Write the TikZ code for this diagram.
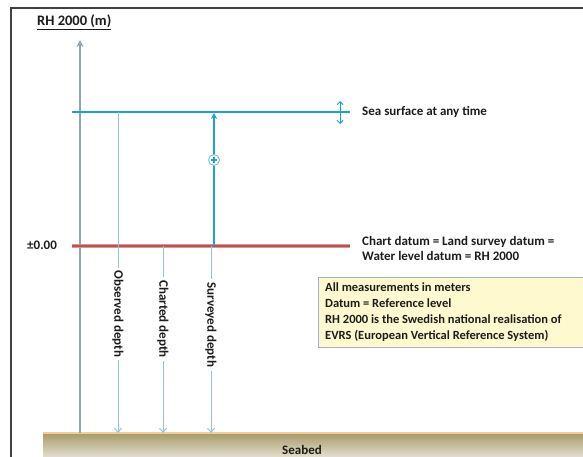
\documentclass[tikz,border=0pt]{standalone}
\usepackage{fontspec}
\setmainfont{Carlito}
\usetikzlibrary{arrows.meta}
\definecolor{seablue}{HTML}{1E9FD8}
\definecolor{thinblue}{HTML}{8EC3E3}
\definecolor{axisgray}{HTML}{94A3B0}
\definecolor{datumred}{HTML}{C0504D}
\definecolor{txt}{HTML}{1C1C1C}
\definecolor{notefill}{HTML}{FEF9CF}
\definecolor{noteedge}{HTML}{9FB3C2}
\definecolor{seabedtop}{HTML}{A79B66}
\definecolor{seabedbot}{HTML}{E2DFCE}
\definecolor{seabededge}{HTML}{F3CC9C}
\begin{document}
\begin{tikzpicture}[x=1pt,y=-1pt,
  lbl/.style={font=\bfseries\fontsize{13}{15}\selectfont, text=txt, inner sep=0pt},
  vlbl/.style={lbl, rotate=-90, inner sep=3pt},
  thinline/.style={draw=thinblue, line width=1pt},
  thinarrow/.style={thinline, -{Straight Barb[length=4pt,width=7pt]}}]
\useasboundingbox (0,0) rectangle (583,457);
% frame
\draw[line width=1.3pt, black!75] (11,460) -- (11,8) -- (590,8);
% seabed
\shade[top color=seabedtop, bottom color=seabedbot] (43,433) rectangle (583,457);
\draw[seabededge, line width=1.5pt] (43,433) -- (583,433);
\node[lbl, anchor=west] (seabed) at (282,450) {Seabed};
% axis
\coordinate (axbot) at (80,433);
\coordinate (axtop) at (80,40);
\draw[axisgray, line width=1.3pt, -{Stealth[length=7pt,width=7pt,inset=2pt]}] (axbot) -- (axtop);
\node[lbl, anchor=west, font=\bfseries\fontsize{14.5}{16}\selectfont] (rh) at (37,22) {\underline{RH 2000 (m)}};
% sea surface
\coordinate (ssL) at (72,112);
\coordinate (ssR) at (350,112);
\draw[seablue, line width=1.6pt] (ssL) -- (ssR);
\coordinate (varT) at (340,101);
\coordinate (varB) at (340,124);
\draw[seablue, line width=1pt, {Straight Barb[length=3pt,width=6pt]}-{Straight Barb[length=3pt,width=6pt]}] (varT) -- (varB);
\node[lbl, anchor=west] (sslabel) at (362,112) {Sea surface at any time};
% datum
\coordinate (dL) at (72,246);
\coordinate (dR) at (350,246);
\draw[datumred!60, line width=4pt] (dL) -- (dR);
\draw[datumred, line width=2.2pt] (dL) -- (dR);
\node[lbl, anchor=west] (zero) at (27,245) {±0.00};
\node[lbl, anchor=west, align=left] (datumlabel) at (362,248) {Chart datum = Land survey datum =\\Water level datum = RH 2000};
% note box
\node[draw=noteedge, line width=0.8pt, fill=notefill, anchor=north west,
      minimum width=280pt, minimum height=70pt, inner sep=0pt] (note) at (318,277) {};
\node[lbl, anchor=north west, align=left, font=\bfseries\fontsize{12.5}{16}\selectfont] (notetext) at (325,283)
  {All measurements in meters\\Datum = Reference level\\RH 2000 is the Swedish national realisation of\\EVRS (European Vertical Reference System)};
% observed depth
\coordinate (obsT) at (118,112);
\coordinate (obsB) at (118,433);
\node[vlbl] (obs) at (118,314) {Observed depth};
\draw[thinline] (obsT) -- (obs.west);
\draw[thinarrow] (obs.east) -- (obsB);
% charted depth
\coordinate (chT) at (163,246);
\coordinate (chB) at (163,433);
\node[vlbl] (ch) at (163,319) {Charted depth};
\draw[thinline] (chT) -- (ch.west);
\draw[thinarrow] (ch.east) -- (chB);
% surveyed depth
\coordinate (svT) at (211,246);
\coordinate (svB) at (211,433);
\node[vlbl] (sv) at (211,325) {Surveyed depth};
\draw[thinline] (svT) -- (sv.west);
\draw[thinarrow] (sv.east) -- (svB);
% water level arrow
\coordinate (wlB) at (214,246);
\coordinate (wlT) at (214,113);
\draw[seablue, line width=1.3pt, -{Stealth[length=6pt,width=6pt]}] (wlB) -- (wlT);
\node[circle, draw=seablue!70, line width=0.8pt, fill=white, minimum size=11pt, inner sep=0pt] (plus) at (214,160) {};
\draw[seablue, line width=1.1pt] ([xshift=-2.8pt]plus.center) -- ([xshift=2.8pt]plus.center);
\draw[seablue, line width=1.1pt] ([yshift=-2.8pt]plus.center) -- ([yshift=2.8pt]plus.center);
\end{tikzpicture}
\end{document}
